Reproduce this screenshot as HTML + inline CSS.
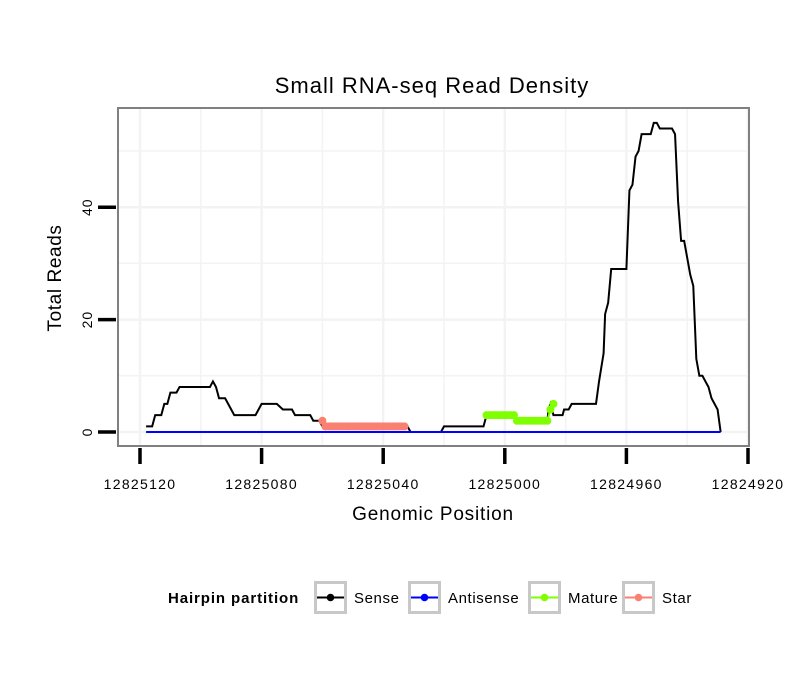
<!DOCTYPE html>
<html><head><meta charset="utf-8"><style>
body{margin:0;background:#fff;font-family:"Liberation Sans",sans-serif}
</style></head><body>
<svg id="chart" width="810" height="690" xmlns="http://www.w3.org/2000/svg">
<rect width="810" height="690" fill="#fff"/>
<text x="432" y="93" font-size="22" letter-spacing="1" text-anchor="middle">Small RNA-seq Read Density</text>
<g id="grid"></g>
<g id="series"></g>
<rect x="118" y="108" width="631" height="338" fill="none" stroke="#808080" stroke-width="2"/>
<g id="axes"></g>
<text x="433" y="520" font-size="19" letter-spacing="0.8" text-anchor="middle">Genomic Position</text>
<text transform="translate(61,278) rotate(-90)" font-size="19" letter-spacing="0.6" text-anchor="middle">Total Reads</text>
<g id="legend">
<text x="168" y="603" font-size="15" letter-spacing="0.9" font-weight="bold">Hairpin partition</text>
</g>
</svg>
<script>
const sensePos=[12825118,12825116,12825115,12825113,12825112,12825111,12825110,12825108,12825107,12825097,12825096,12825095,12825094,12825092,12825091,12825089,12825082,12825080,12825075,12825073,12825070,12825069,12825064,12825063,12825061,12825060,12825032,12825031,12825021,12825020,12825007,12825006,12824997,12824996,12824986,12824985.6,12824985,12824984,12824981,12824980.5,12824979,12824978,12824970,12824969,12824967.5,12824967,12824966,12824965,12824960,12824959,12824958,12824957,12824956,12824955,12824952,12824951,12824950,12824949,12824945,12824944,12824943,12824942,12824941,12824939,12824938,12824937,12824936,12824935,12824933,12824932,12824931,12824930,12824929];
const senseVal=[1,1,3,3,5,5,7,7,8,8,9,8,6,6,5,3,3,5,5,4,4,3,3,2,2,1,1,0,0,1,1,3,3,2,2,4,5,3,3,4,4,5,5,9,14,21,23,29,29,43,44,49,50,53,53,55,55,54,54,53,41,34,34,28,26,13,10,10,8,6,5,4,0];
const antiPos=[12825118,12824929];
const antiVal=[0,0];
const starPos=[12825060,12825059,12825058,12825057,12825056,12825055,12825054,12825053,12825052,12825051,12825050,12825049,12825048,12825047,12825046,12825045,12825044,12825043,12825042,12825041,12825040,12825039,12825038,12825037,12825036,12825035,12825034,12825033];
const starVal=[2,1,1,1,1,1,1,1,1,1,1,1,1,1,1,1,1,1,1,1,1,1,1,1,1,1,1,1];
const maturePos=[12825006,12825005,12825004,12825003,12825002,12825001,12825000,12824999,12824998,12824997,12824996,12824995,12824994,12824993,12824992,12824991,12824990,12824989,12824988,12824987,12824986,12824985,12824984];
const matureVal=[3,3,3,3,3,3,3,3,3,3,2,2,2,2,2,2,2,2,2,2,2,4,5];
const xTicks=[12825120,12825080,12825040,12825000,12824960,12824920];
const yTicks=[0,20,40];
const legendLabels=["Sense","Antisense","Mature","Star"];
const legendColors=["#000000","#0000ff","#7fff00","#fa8072"];

const NS="http://www.w3.org/2000/svg";
const X=p=>140+(12825120-p)*3.04;
const Y=v=>432-v*5.62;
function mk(tag,attrs,parent){const e=document.createElementNS(NS,tag);for(const k in attrs)e.setAttribute(k,attrs[k]);parent.appendChild(e);return e;}
const grid=document.getElementById('grid'),ser=document.getElementById('series'),axes=document.getElementById('axes'),leg=document.getElementById('legend');
for(let p=12825120;p>=12824920;p-=20){const g=mk('line',{x1:X(p),x2:X(p),y1:109,y2:445,stroke:'#f3f3f3','stroke-width':p%40===0?2.5:1.5},grid);

}
for(let v=0;v<=60;v+=10){const y=Y(v);if(y<109)continue;const g=mk('line',{x1:119,x2:748,y1:y,y2:y,stroke:'#f3f3f3','stroke-width':v%20===0?2.5:1.5},grid);

}
function line(ps,vs,col,name,w){const pts=ps.map((p,i)=>X(p)+','+Y(vs[i])).join(' ');const l=mk('polyline',{points:pts,fill:'none',stroke:col,'stroke-width':w},ser);

}
line(sensePos,senseVal,'#000','sense-line',2);
line(antiPos,antiVal,'#0000ff','antisense-line',2);
function pts(ps,vs,col,name){line(ps,vs,col,name+'-line',2);ps.forEach((p,i)=>{const c=mk('circle',{cx:X(p),cy:Y(vs[i]),r:4,fill:col},ser);

});}
pts(starPos,starVal,'#fa8072','star');
pts(maturePos,matureVal,'#7fff00','mature');
xTicks.forEach(p=>{const t=mk('line',{x1:X(p),x2:X(p),y1:448,y2:464,stroke:'#000','stroke-width':3.5},axes);


const tx=mk('text',{x:X(p),y:489,'font-size':14,'letter-spacing':1.3,'text-anchor':'middle'},axes);tx.textContent=p;

});
yTicks.forEach(v=>{const t=mk('line',{x1:98,x2:116,y1:Y(v),y2:Y(v),stroke:'#000','stroke-width':3.5},axes);


const tx=mk('text',{transform:`translate(92,${Y(v)}) rotate(-90)`,'font-size':14,'letter-spacing':1,'text-anchor':'middle'},axes);tx.textContent=v;

});
const lx=[314,408,528,622];
legendLabels.forEach((lab,i)=>{const x=lx[i];
const b=mk('rect',{x:x+1.5,y:582.5,width:30,height:30,fill:'#fff',stroke:'#c8c8c8','stroke-width':3},leg);


mk('line',{x1:x+3,x2:x+30,y1:597.5,y2:597.5,stroke:legendColors[i],'stroke-width':2},leg);
mk('circle',{cx:x+16.5,cy:597.5,r:3.8,fill:legendColors[i]},leg);
const t=mk('text',{x:x+40,y:603,'font-size':15,'letter-spacing':0.6},leg);t.textContent=lab;

});
</script>
</body></html>
